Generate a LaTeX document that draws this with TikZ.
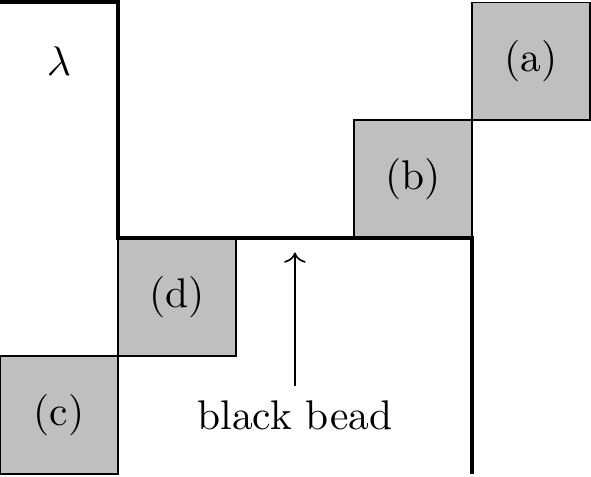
\documentclass[tikz,border=0pt]{standalone}
\usepackage{tikz}
\usetikzlibrary{arrows.meta, positioning, calc}

\tikzset{
  cell/.style={draw, thin, fill=gray!50, minimum size=1cm, inner sep=0pt},
  bdry/.style={line width=1pt, line join=miter}
}

\begin{document}
\begin{tikzpicture}[scale=1.0, >=To, line cap=butt]
      \useasboundingbox (0,-0.02) rectangle (5.01,4.02);
      \coordinate (T0) at (0,4.0);
      \coordinate (T1) at (1,4.0);
      \coordinate (M1) at (1,2);
      \coordinate (M2) at (4,2);
      \coordinate (B2) at (4,0);
      \coordinate (tip) at (2.5,1.88);
      \node[cell] (a) at (4.5,3.5) {(a)};
      \node[cell] (b) at (3.5,2.5) {(b)};
      \node[cell] (d) at (1.5,1.5) {(d)};
      \node[cell] (c) at (0.5,0.5) {(c)};
      \draw[bdry] (T0) -- (T1) -- (M1) -- (M2) -- (B2);
      \node (lam) at (0.5,3.5) {$\lambda$};
      \node (bead) at (2.5,0.5) {black bead};
      \draw[->] (bead.north) -- (tip);
    \end{tikzpicture}
\end{document}
